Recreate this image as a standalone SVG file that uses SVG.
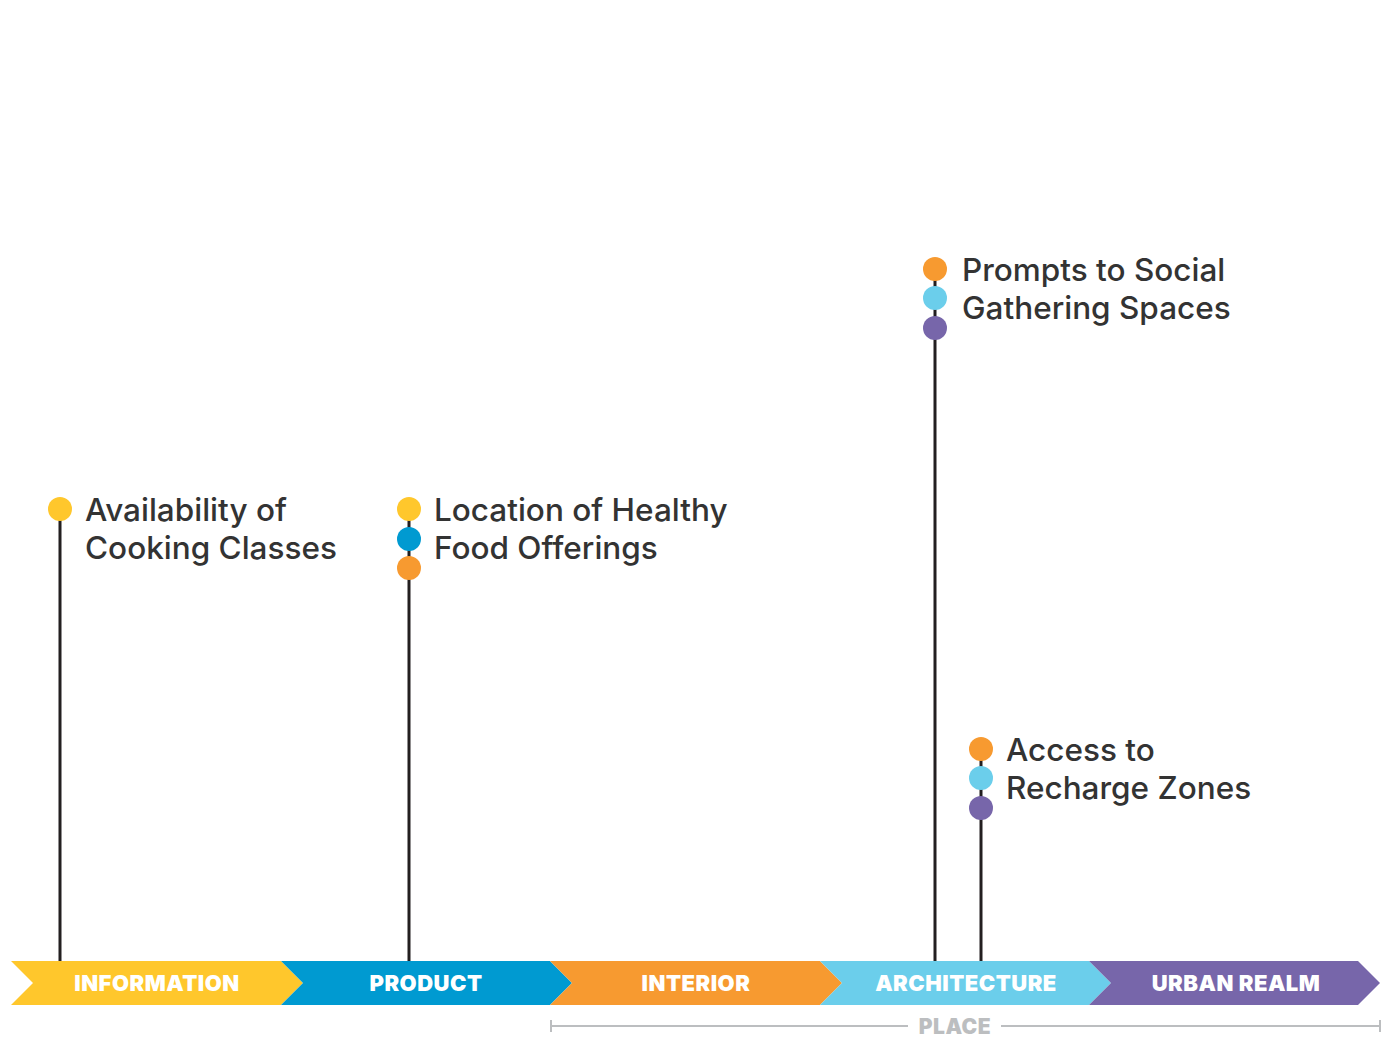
<svg xmlns="http://www.w3.org/2000/svg" width="1382" height="1041" viewBox="0 0 1382 1041">
<style>
.lbl{font-family:Inter,"Liberation Sans",sans-serif;font-weight:500;font-size:31.5px;fill:#333333}
.bar{font-family:Inter,"Liberation Sans",sans-serif;font-weight:900;font-size:22px;letter-spacing:0.5px;fill:#ffffff;text-anchor:middle}
.stem{stroke:#231f20;stroke-width:3;fill:none}
.yel{fill:#ffc72c}.blu{fill:#009ad1}.ora{fill:#f79a30}.lbl2{fill:#6bceeb}.pur{fill:#7766aa}
.brk{stroke:#bcbec0;stroke-width:2;fill:none}
</style>
<rect width="1382" height="1041" fill="#ffffff"/>
<g id="connectors">
<line class="stem" x1="60" y1="509" x2="60" y2="961"/>
<line class="stem" x1="409" y1="509" x2="409" y2="961"/>
<line class="stem" x1="935" y1="269" x2="935" y2="961"/>
<line class="stem" x1="981" y1="749" x2="981" y2="961"/>
</g>
<g id="bar">
<g id="seg-information"><polygon class="yel" points="11,961 281,961 303,983 281,1005 11,1005 33,983"/><text class="bar" x="157" y="991">INFORMATION</text></g>
<g id="seg-product"><polygon class="blu" points="281,961 550,961 572,983 550,1005 281,1005 303,983"/><text class="bar" x="426" y="991">PRODUCT</text></g>
<g id="seg-interior"><polygon class="ora" points="550,961 820,961 842,983 820,1005 550,1005 572,983"/><text class="bar" x="696" y="991">INTERIOR</text></g>
<g id="seg-architecture"><polygon class="lbl2" points="820,961 1089,961 1111,983 1089,1005 820,1005 842,983"/><text class="bar" x="966" y="991">ARCHITECTURE</text></g>
<g id="seg-urban"><polygon class="pur" points="1089,961 1358,961 1380,983 1358,1005 1089,1005 1111,983"/><text class="bar" x="1236" y="991">URBAN REALM</text></g>
</g>
<g id="place">
<path class="brk" d="M551,1020V1032M551,1026H908M1001,1026H1380M1380,1020V1032"/>
<text x="955" y="1034" text-anchor="middle" style="font-family:Inter,'Liberation Sans',sans-serif;font-weight:900;font-size:21px;letter-spacing:0.5px;fill:#bcbec0">PLACE</text>
</g>
<g id="node-cooking">
<circle class="yel" cx="60" cy="509" r="12"/>
<text class="lbl" x="85" y="521">Availability of</text>
<text class="lbl" x="85" y="559">Cooking Classes</text>
</g>
<g id="node-food">
<circle class="yel" cx="409" cy="509" r="12"/>
<circle class="blu" cx="409" cy="539" r="12"/>
<circle class="ora" cx="409" cy="568" r="12"/>
<text class="lbl" x="434" y="521">Location of Healthy</text>
<text class="lbl" x="434" y="559">Food Offerings</text>
</g>
<g id="node-social">
<circle class="ora" cx="935" cy="269" r="12"/>
<circle class="lbl2" cx="935" cy="298" r="12"/>
<circle class="pur" cx="935" cy="328" r="12"/>
<text class="lbl" x="962" y="281">Prompts to Social</text>
<text class="lbl" x="962" y="319">Gathering Spaces</text>
</g>
<g id="node-recharge">
<circle class="ora" cx="981" cy="749" r="12"/>
<circle class="lbl2" cx="981" cy="778" r="12"/>
<circle class="pur" cx="981" cy="808" r="12"/>
<text class="lbl" x="1006" y="761">Access to</text>
<text class="lbl" x="1006" y="799">Recharge Zones</text>
</g>
</svg>
